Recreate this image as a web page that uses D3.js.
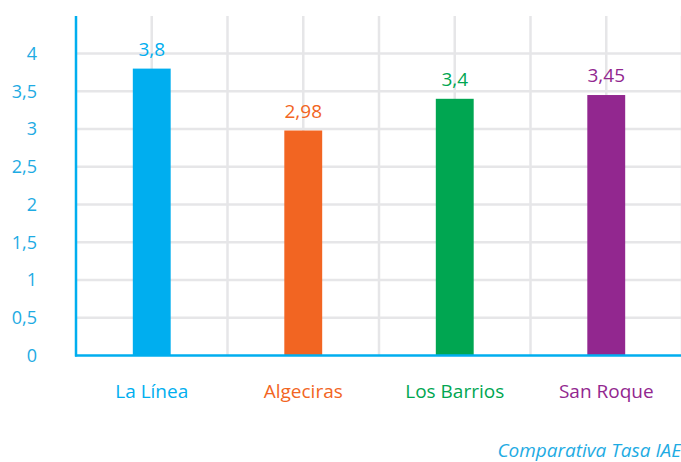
<!DOCTYPE html>
<html>
<head>
<meta charset="utf-8">
<script src="https://cdn.jsdelivr.net/npm/d3@7"></script>
<style>
  body { margin: 0; background: #fff; }
  svg { display: block; font-family: "Open Sans", sans-serif; }
</style>
</head>
<body>
<div id="chart"></div>
<script>
var municipios = ["La Línea", "Algeciras", "Los Barrios", "San Roque"];
var tasas = [3.8, 2.98, 3.4, 3.45];
var colores = ["#00aeef", "#f26522", "#00a651", "#92278f"];
var yTicks = [0, 0.5, 1, 1.5, 2, 2.5, 3, 3.5, 4];
var pie = "Comparativa Tasa IAE";

var W = 681, H = 462;
var plotLeft = 76, plotRight = 682, plotTop = 16, base = 355.5;

var svg = d3.select("#chart").append("svg")
    .attr("width", W)
    .attr("height", H);

var x = d3.scaleBand()
    .domain(municipios)
    .range([plotLeft, plotRight])
    .padding(0);

var y = d3.scaleLinear()
    .domain([0, 4])
    .range([base, 53.5]);

var fmt = function(v) { return String(v).replace(".", ","); };

// grid horizontal
svg.append("g").selectAll("line")
    .data(yTicks.slice(1))
    .enter().append("line")
    .attr("x1", plotLeft).attr("x2", W)
    .attr("y1", function(d) { return y(d); })
    .attr("y2", function(d) { return y(d); })
    .attr("stroke", "#e6e6e8")
    .attr("stroke-width", 2.5);

// grid vertical: band edges and centres
var vx = [];
municipios.forEach(function(m) {
  vx.push(x(m) + x.bandwidth() / 2);
  vx.push(x(m) + x.bandwidth());
});
svg.append("g").selectAll("line")
    .data(vx)
    .enter().append("line")
    .attr("x1", function(d) { return d; })
    .attr("x2", function(d) { return d; })
    .attr("y1", plotTop).attr("y2", base)
    .attr("stroke", "#e6e6e8")
    .attr("stroke-width", 2.5);

// bars
var bw = x.bandwidth() * 0.25;
svg.append("g").selectAll("rect")
    .data(tasas)
    .enter().append("rect")
    .attr("x", function(d, i) { return x(municipios[i]) + x.bandwidth() / 2 - bw / 2; })
    .attr("y", function(d) { return y(d); })
    .attr("width", bw)
    .attr("height", function(d) { return base - y(d); })
    .attr("fill", function(d, i) { return colores[i]; });

// value labels
svg.append("g").selectAll("text")
    .data(tasas)
    .enter().append("text")
    .attr("x", function(d, i) { return x(municipios[i]) + x.bandwidth() / 2; })
    .attr("y", function(d) { return y(d) - 13; })
    .attr("text-anchor", "middle")
    .attr("font-size", 19)
    .attr("fill", function(d, i) { return colores[i]; })
    .text(function(d) { return fmt(d); });

// axes
svg.append("line")
    .attr("x1", plotLeft).attr("x2", plotLeft)
    .attr("y1", plotTop).attr("y2", base + 1)
    .attr("stroke", "#00aeef")
    .attr("stroke-width", 2.5);
svg.append("line")
    .attr("x1", plotLeft - 1).attr("x2", W)
    .attr("y1", base).attr("y2", base)
    .attr("stroke", "#00aeef")
    .attr("stroke-width", 2.5);

// y tick labels
svg.append("g").selectAll("text")
    .data(yTicks)
    .enter().append("text")
    .attr("x", 37)
    .attr("y", function(d) { return y(d); })
    .attr("dy", "0.36em")
    .attr("text-anchor", "end")
    .attr("font-size", 18)
    .attr("fill", "#1eabe3")
    .text(function(d) { return fmt(d); });

// category labels
svg.append("g").selectAll("text")
    .data(municipios)
    .enter().append("text")
    .attr("x", function(d) { return x(d) + x.bandwidth() / 2; })
    .attr("y", 398)
    .attr("text-anchor", "middle")
    .attr("font-size", 19)
    .attr("fill", function(d, i) { return colores[i]; })
    .text(function(d) { return d; });

svg.append("text")
    .attr("x", 681)
    .attr("y", 457)
    .attr("text-anchor", "end")
    .attr("font-size", 19)
    .attr("font-style", "italic")
    .attr("fill", "#1eabe3")
    .text(pie);
</script>
</body>
</html>
